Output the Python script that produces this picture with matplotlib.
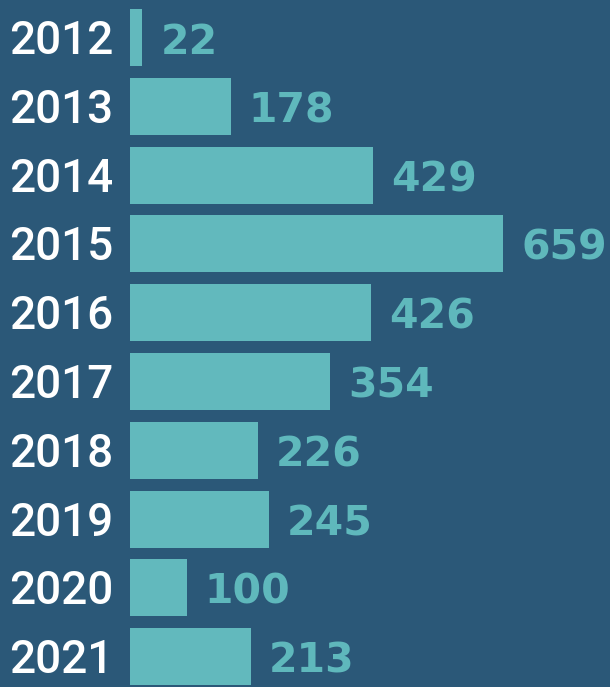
import matplotlib
matplotlib.use("Agg")
import matplotlib.pyplot as plt

years = ["2012", "2013", "2014", "2015", "2016", "2017", "2018", "2019", "2020", "2021"]
values = [22, 178, 429, 659, 426, 354, 226, 245, 100, 213]

BG = "#2B5878"
BAR = "#62B9BD"
TXT = "#5FB8BC"

W, H = 610, 687
fig = plt.figure(figsize=(W / 100, H / 100), dpi=100, facecolor=BG)
left_px = 130
ax = fig.add_axes([left_px / W, 0, 1 - left_px / W, 1])
ax.set_facecolor(BG)

pos = list(range(len(years)))
ax.barh(pos, values, height=0.83, color=BAR, linewidth=0)

px_per_unit = 373 / 659
ax.set_xlim(0, (W - left_px) / px_per_unit)
step = 68.8
c0 = 37.5
ax.set_ylim((H - c0) / step, -c0 / step)
ax.axis("off")

for p, y, v in zip(pos, years, values):
    ax.annotate(y, xy=(0, p), xytext=(-17 * 0.72, -16.5 * 0.72),
                textcoords="offset points", ha="right", va="baseline",
                color="white", fontsize=33, family="Roboto", fontweight="medium")
    ax.annotate(str(v), xy=(v, p), xytext=(18 * 0.72, -16 * 0.72),
                textcoords="offset points", ha="left", va="baseline",
                color=TXT, fontsize=29.5, family="DejaVu Sans", fontweight="bold")

fig.savefig("out.png", dpi=100, facecolor=BG)
